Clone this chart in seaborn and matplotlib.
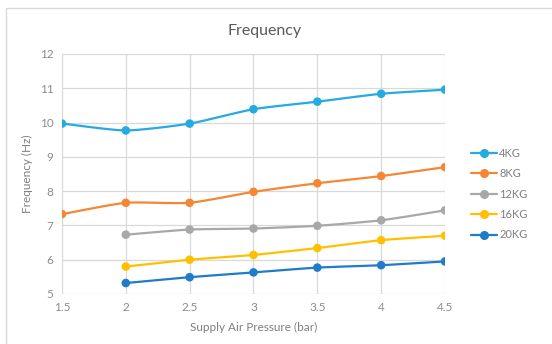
import numpy as np
import pandas as pd
import matplotlib
matplotlib.use("Agg")
import matplotlib.pyplot as plt
import seaborn as sns
from matplotlib.lines import Line2D
from matplotlib.patches import Rectangle

pressure = [1.5, 2.0, 2.5, 3.0, 3.5, 4.0, 4.5]
series_names = ["4KG", "8KG", "12KG", "16KG", "20KG"]
f_4kg = [9.97, 9.77, 9.97, 10.39, 10.61, 10.84, 10.96]
f_8kg = [7.33, 7.66, 7.66, 7.98, 8.23, 8.44, 8.70]
f_12kg = [None, 6.73, 6.88, 6.91, 6.99, 7.15, 7.44]
f_16kg = [None, 5.80, 6.00, 6.14, 6.34, 6.57, 6.70]
f_20kg = [None, 5.32, 5.49, 5.63, 5.77, 5.84, 5.95]
colors = ["#25AAE1", "#F58634", "#A8A8A8", "#FFC000", "#1F7BCB"]

sns.set_theme(style="white")
plt.rcParams["font.family"] = ["Lato", "DejaVu Sans"]

rows = []
for name, vals in zip(series_names, [f_4kg, f_8kg, f_12kg, f_16kg, f_20kg]):
    for x, v in zip(pressure, vals):
        if v is not None:
            rows.append({"Pressure": x, "Frequency": v, "Series": name})
df = pd.DataFrame(rows)


def smooth(xs, ys, n=20):
    # Catmull-Rom rendering of the line through the data points (Excel "smoothed line")
    xs = np.asarray(xs, float)
    ys = np.asarray(ys, float)
    px = np.concatenate([[2 * xs[0] - xs[1]], xs, [2 * xs[-1] - xs[-2]]])
    py = np.concatenate([[2 * ys[0] - ys[1]], ys, [2 * ys[-1] - ys[-2]]])
    ox, oy = [], []
    for i in range(1, len(px) - 2):
        t = np.linspace(0, 1, n, endpoint=False)
        for arr, out in ((px, ox), (py, oy)):
            p0, p1, p2, p3 = arr[i - 1], arr[i], arr[i + 1], arr[i + 2]
            m1 = (p2 - p0) / 2 * 0.6
            m2 = (p3 - p1) / 2 * 0.6
            h00 = 2 * t**3 - 3 * t**2 + 1
            h10 = t**3 - 2 * t**2 + t
            h01 = -2 * t**3 + 3 * t**2
            h11 = t**3 - t**2
            out.extend(h00 * p1 + h10 * m1 + h01 * p2 + h11 * m2)
    ox.append(xs[-1])
    oy.append(ys[-1])
    return np.array(ox), np.array(oy)


fig = plt.figure(figsize=(5.52, 3.44), dpi=100)
fig.patches.append(Rectangle((6 / 552, -0.05), 1.2, (344 - 8) / 344 + 0.05,
                             transform=fig.transFigure, fill=False,
                             edgecolor="#D9D9D9", linewidth=1.0))
ax = fig.add_axes([62 / 552, 50 / 344, (445 - 62) / 552, (294 - 54) / 344])

smooth_rows = []
for name in series_names:
    sub = df[df["Series"] == name]
    sx, sy = smooth(sub["Pressure"].values, sub["Frequency"].values)
    smooth_rows.append(pd.DataFrame({"Pressure": sx, "Frequency": sy, "Series": name}))
sdf = pd.concat(smooth_rows)

palette = dict(zip(series_names, colors))
sns.lineplot(data=sdf, x="Pressure", y="Frequency", hue="Series", palette=palette,
             sort=False, estimator=None, linewidth=1.6, legend=False, ax=ax, zorder=3)
sns.scatterplot(data=df, x="Pressure", y="Frequency", hue="Series", palette=palette,
                s=38, edgecolor="none", legend=False, ax=ax, zorder=4)

ax.set_xlim(1.5, 4.5)
ax.set_ylim(5, 12)
ax.set_xticks(pressure)
ax.set_xticklabels(["1.5", "2", "2.5", "3", "3.5", "4", "4.5"])
ax.set_yticks(range(5, 13))
ax.grid(True, color="#D9D9D9", linewidth=0.9)
ax.set_axisbelow(True)
for s in ax.spines.values():
    s.set_visible(False)
ax.tick_params(axis="both", colors="#8C8C8C", labelsize=8.5, length=0, pad=6)
ax.set_xlabel("Supply Air Pressure (bar)", color="#7F7F7F", fontsize=8.5, labelpad=6)
ax.set_ylabel("Frequency (Hz)", color="#7F7F7F", fontsize=8.5, labelpad=5)
ax.set_title("Frequency", color="#595959", fontsize=11.5, pad=14, x=0.53)

handles = [Line2D([0], [0], color=c, lw=1.6, marker="o", markersize=5.5) for c in colors]
leg = fig.legend(handles, series_names, loc="center left",
                 bbox_to_anchor=(467 / 552, 1 - 194 / 344), frameon=False,
                 fontsize=8, handlelength=2.3, handletextpad=0.2, labelspacing=0.85,
                 borderaxespad=0)
for t in leg.get_texts():
    t.set_color("#7F7F7F")

fig.savefig("out.png", dpi=100, facecolor="white")
